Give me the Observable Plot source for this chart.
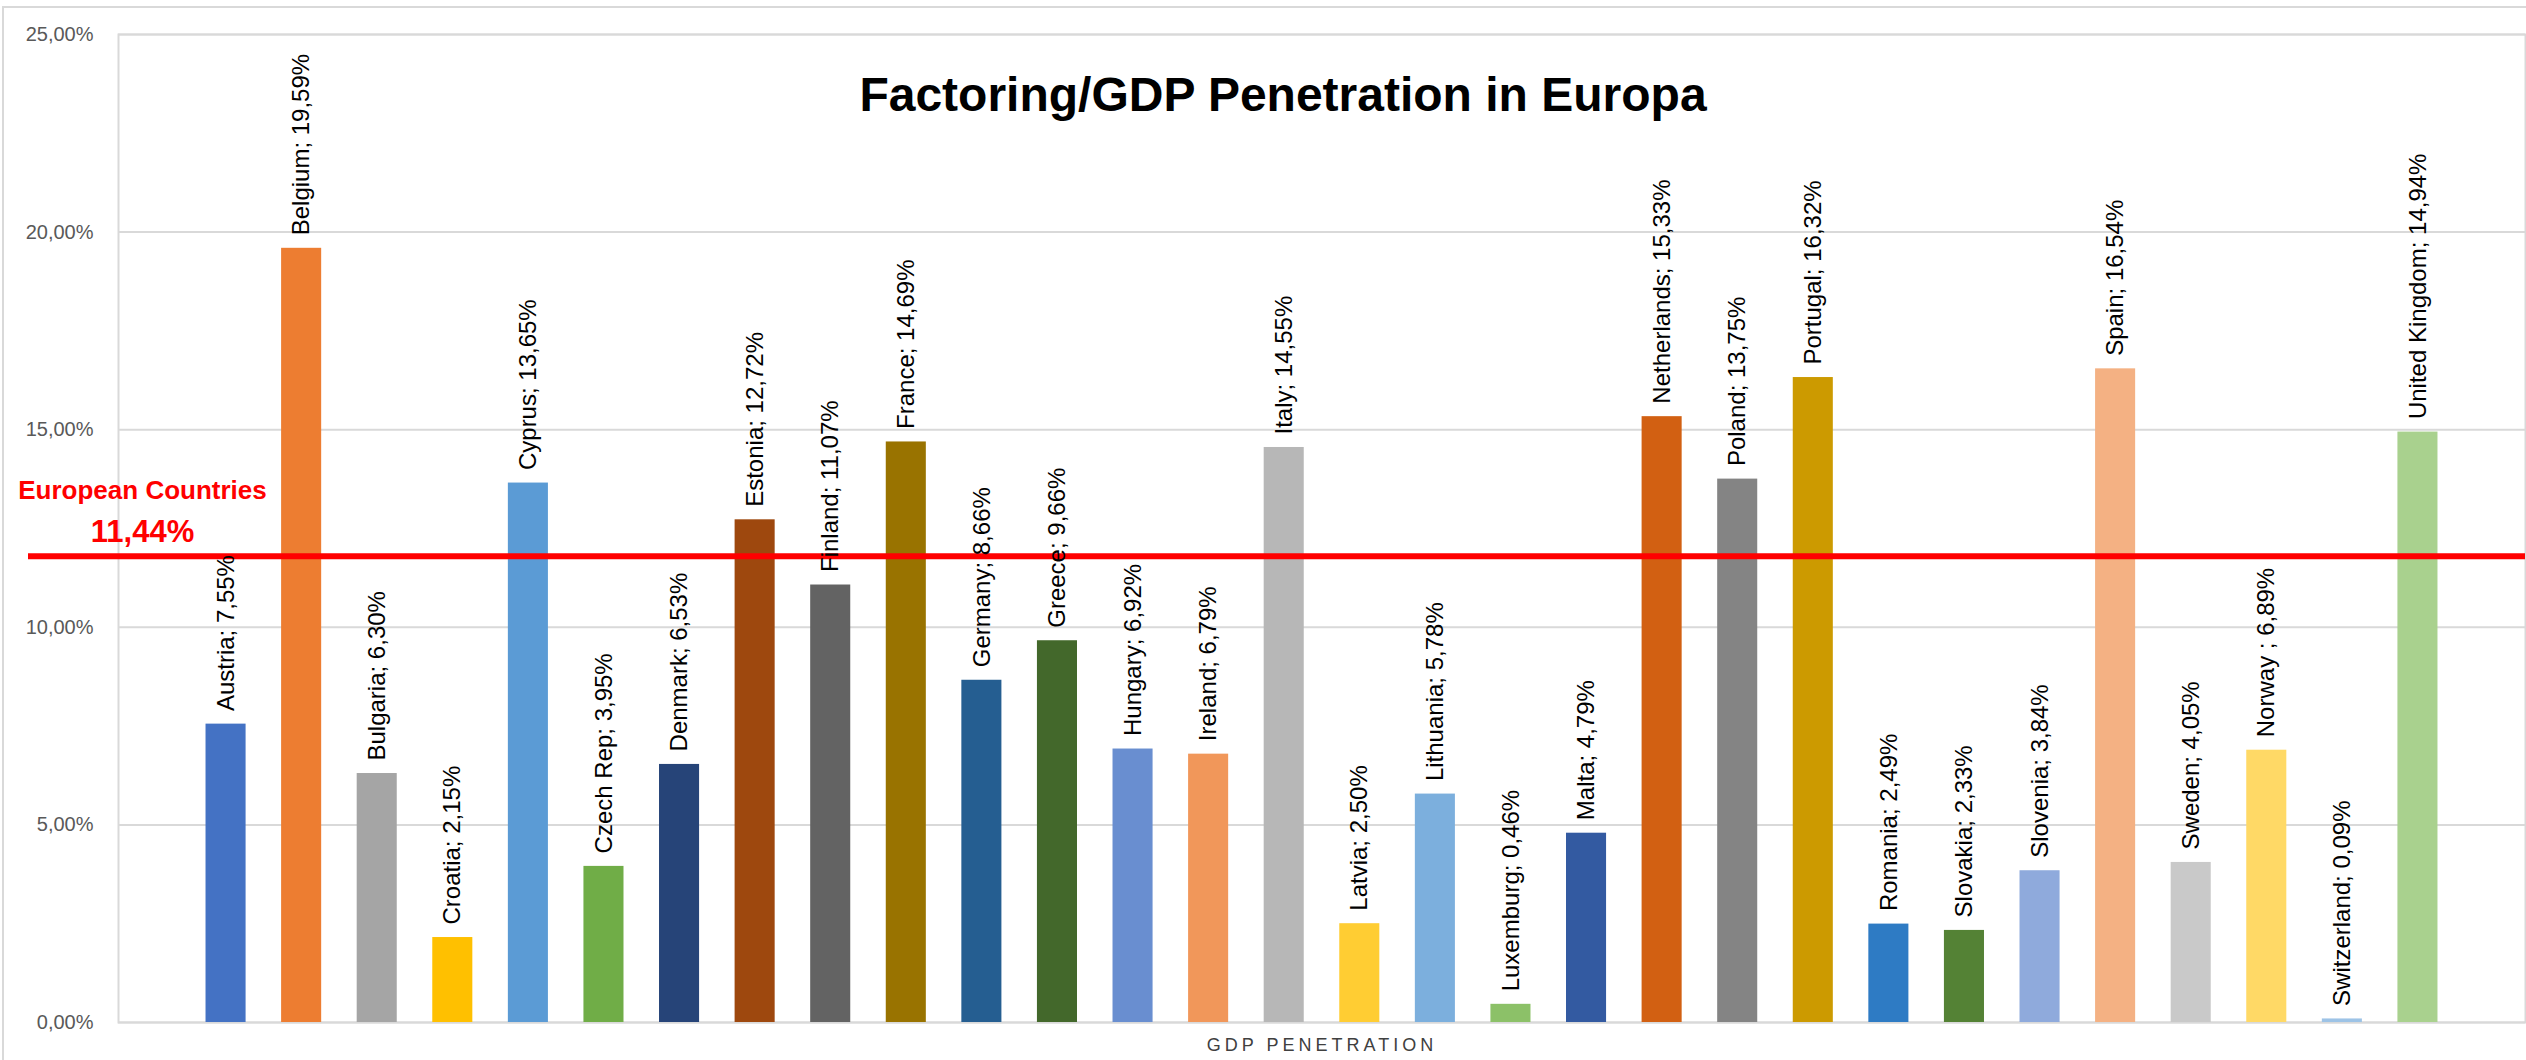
<!DOCTYPE html>
<html>
<head>
<meta charset="utf-8">
<script src="https://cdn.jsdelivr.net/npm/d3@7"></script>
<script src="https://cdn.jsdelivr.net/npm/@observablehq/plot@0.6"></script>
<style>
  html, body { margin: 0; padding: 0; background: #fff; }
  #wrap { position: relative; width: 2526px; height: 1060px; overflow: hidden; }
  #border { position: absolute; left: 2px; top: 6px; right: 0; bottom: 0; border-left: 2px solid #d9d9d9; border-top: 2px solid #d9d9d9; background: #fff; }
  #chart { position: absolute; left: 0; top: 0; }
</style>
</head>
<body>
<div id="wrap"><div id="border"></div><div id="chart"></div></div>
<script>
const countries = ["Austria","Belgium","Bulgaria","Croatia","Cyprus","Czech Rep","Denmark","Estonia","Finland","France","Germany","Greece","Hungary","Ireland","Italy","Latvia","Lithuania","Luxemburg","Malta","Netherlands","Poland","Portugal","Romania","Slovakia","Slovenia","Spain","Sweden","Norway","Switzerland","United Kingdom"];
const values = [7.55,19.59,6.30,2.15,13.65,3.95,6.53,12.72,11.07,14.69,8.66,9.66,6.92,6.79,14.55,2.50,5.78,0.46,4.79,15.33,13.75,16.32,2.49,2.33,3.84,16.54,4.05,6.89,0.09,14.94];
const labels = ["Austria; 7,55%","Belgium; 19,59%","Bulgaria; 6,30%","Croatia; 2,15%","Cyprus; 13,65%","Czech Rep; 3,95%","Denmark; 6,53%","Estonia; 12,72%","Finland; 11,07%","France; 14,69%","Germany; 8,66%","Greece; 9,66%","Hungary; 6,92%","Ireland; 6,79%","Italy; 14,55%","Latvia; 2,50%","Lithuania; 5,78%","Luxemburg; 0,46%","Malta; 4,79%","Netherlands; 15,33%","Poland; 13,75%","Portugal; 16,32%","Romania; 2,49%","Slovakia; 2,33%","Slovenia; 3,84%","Spain; 16,54%","Sweden; 4,05%","Norway ; 6,89%","Switzerland; 0,09%","United Kingdom; 14,94%"];
const colors = ["#4472C4","#ED7D31","#A5A5A5","#FFC000","#5B9BD5","#70AD47","#264478","#9E480E","#636363","#997300","#255E91","#43682B","#698ED0","#F1975A","#B7B7B7","#FFCD33","#7CAFDD","#8CC168","#335AA1","#D26012","#848484","#CC9A00","#2E7BC4","#548235","#8FAADC","#F4B183","#C9C9C9","#FFD966","#9DC3E6","#A9D18E"];
const yTicks = [0,5,10,15,20,25];
const avgLinePosition = [11.8];
const avgLabelTop = ["European Countries"];
const avgLabelValue = ["11,44%"];
const titleText = ["Factoring/GDP Penetration in Europa"];
const xLabel = ["GDP PENETRATION"];

const data = countries.map((c, i) => ({country: c, value: values[i], label: labels[i], color: colors[i]}));
const fmt = d => d.toFixed(2).replace(".", ",") + "%";

const chart = Plot.plot({
  width: 2526,
  height: 1060,
  marginTop: 34,
  marginBottom: 38,
  marginLeft: 118,
  marginRight: 1,
  style: {fontFamily: "'Liberation Sans', Arial, sans-serif", background: "transparent"},
  x: {domain: countries, padding: 0.47, round: false, insetLeft: 52, insetRight: 52, axis: null},
  y: {domain: [0, 25], axis: null},
  color: {type: "identity"},
  marks: [
    Plot.gridY(yTicks, {stroke: "#d9d9d9", strokeOpacity: 1, strokeWidth: 2}),
    Plot.frame({stroke: "#d9d9d9", strokeWidth: 2}),
    Plot.axisY(yTicks, {tickSize: 0, tickPadding: 25, tickFormat: fmt, fontSize: 20, fill: "#595959", label: null}),
    Plot.barY(data, {x: "country", y: "value", fill: "color"}),
    Plot.ruleY(avgLinePosition, {stroke: "#ff0000", strokeWidth: 6, insetLeft: -90}),
    Plot.text(data, {x: "country", y: "value", text: "label", rotate: -90, textAnchor: "start", dy: -13, fontSize: 24, fill: "#000"}),
    Plot.text(avgLabelTop, {y: avgLinePosition, frameAnchor: "left", textAnchor: "middle", dx: 24, dy: -65, fill: "#ff0000", fontWeight: "bold", fontSize: 26}),
    Plot.text(avgLabelValue, {y: avgLinePosition, frameAnchor: "left", textAnchor: "middle", dx: 24, dy: -24, fill: "#ff0000", fontWeight: "bold", fontSize: 31}),
    Plot.text(titleText, {frameAnchor: "top", dx: -39, dy: 42, fontSize: 48, fontWeight: "bold", fill: "#000"}),
    Plot.text(xLabel, {frameAnchor: "bottom", dy: 28, fontSize: 18, fill: "#404040"})
  ]
});
document.getElementById("chart").appendChild(chart);
d3.select(chart).selectAll("text").filter(function() { return this.textContent === xLabel[0]; }).attr("letter-spacing", "4px");
</script>
</body>
</html>
